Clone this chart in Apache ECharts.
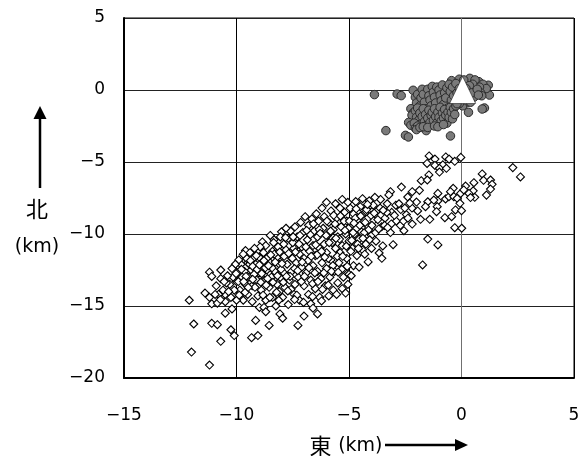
<!DOCTYPE html>
<html><head><meta charset="utf-8">
<script src="https://cdn.jsdelivr.net/npm/echarts@6/dist/echarts.min.js"></script>
<style>html,body{margin:0;padding:0;background:#fff}#c{width:587px;height:456px}</style>
</head><body><div id="c"></div>
<script>
const xTicks = {'-15':'−15','-10':'−10','-5':'−5','0':'0','5':'5'};
const yTicks = {'-20':'−20','-15':'−15','-10':'−10','-5':'−5','0':'0','5':'5'};
const xTitle = '東';
const yTitle = '北';
const unit = '(km)';
const volcano = [[0.05,0]];
const shallowQuakes = [
[-3.87,-.32],[-2.86,-.28],[-2.68,-.39],[-2.15,-.02],[-3.36,-2.82],[-2.49,-3.15],[-2.36,-3.26],[-.49,-3.19],[-1.57,-2.82],
[1.02,-1.25],[.92,-1.32],[.31,-1.55],[1.19,.33],[1.24,-.35],[.77,.58],[.37,.81],[-.44,.65],[-.1,.75],[.1,.7],[.95,.4],[1.1,.1],[.8,.2],[.6,.7],[.5,.4],[.85,-.2],[.6,-.1],[.35,.3],[.3,-.45],[.55,-.5],[.9,-.4],[.15,-.6],[.2,-.9],[.05,-1.1],[-.1,-.95],
[-2.05,-.5],[-2,-.9],[-1.95,-.3],[-1.85,-1.1],[-1.8,-.55],[-1.75,.05],[-1.7,-.3],[-1.65,-.85],[-1.55,-1.3],[-1.5,.05],[-1.45,-.4],[-1.4,-.7],[-1.35,-1.1],[-1.3,.25],[-1.25,-.15],[-1.2,-.5],[-1.15,-.9],[-1.1,.2],[-1.05,-1.3],[-1,.0],[-.95,-.35],[-.9,-.75],[-.85,.35],[-.8,-1],[-.75,-.2],[-.7,-.55],[-.65,.15],[-.6,-1.25],[-.55,.4],[-.5,-.1],[-.45,-.7],[-.4,.2],[-.35,-.4],[-.3,-1],[-.25,.45],[-.2,-.2],[-.15,-.65],[-.1,.1],
[-2.25,-1.3],[-2.15,-1.6],[-2.2,-1.75],[-2.05,-1.45],[-2,-1.9],[-1.95,-1.25],[-1.9,-2.1],[-1.85,-1.6],[-1.8,-2.35],[-1.75,-1.85],[-1.7,-1.3],[-1.65,-2.2],[-1.6,-1.7],[-1.55,-2.45],[-1.5,-1.95],[-1.45,-1.4],[-1.4,-2.25],[-1.35,-1.75],[-1.3,-1.55],[-1.25,-2.1],[-1.2,-1.3],[-1.15,-1.85],[-1.1,-2.3],[-1.05,-1.55],[-1,-1.9],[-.95,-1.2],[-.9,-2.15],[-.85,-1.6],[-.8,-1.95],[-.75,-1.35],[-.7,-1.75],[-.65,-2.3],[-.6,-1.55],[-.55,-1.9],[-.5,-1.2],[-.45,-1.55],[-.4,-2],[-.35,-1.3],[-.3,-1.7],[-.25,-1.1],
[-2.35,-2.25],[-2.25,-2.45],[-2.1,-2.3],[-2.05,-2.65],[-1.95,-2.5],[-2,-2.75],[-1.85,-2.6],[-1.7,-2.55],[-1.5,-2.6],[-1.2,-2.5],[-1.05,-2.55],[-.8,-2.4],
[-.2,-.95],[-.05,-.6],[.0,-.3],[.1,-.2],[.2,.1],[.25,-.75],[.4,-.85],[.45,-.2],[.7,.05],[.75,-.35]
];
const deepQuakes = [
[-12.1,-14.6],[-11.9,-16.25],[-12,-18.2],[-11.2,-19.1],[-11.1,-16.2],[-10.85,-16.3],[-10.7,-17.45],[-10.5,-15.5],[-10.2,-15.2],[-10.25,-16.65],[-10.1,-17.05],[-9.33,-17.2],[-9.05,-17.05],[-9.15,-16],[-8.55,-16.35],[-8.98,-15.1],[-8.78,-15.1],[-8.7,-15.4],[-8.07,-15.55],[-7.95,-15.85],[-7.27,-16.35],[-7,-15.7],[-6.4,-15.55],[-6.7,-14.85],[-6.6,-15.15],
[-11.2,-12.65],[-11.1,-12.95],[-10.7,-12.5],[-11.4,-14.1],[-11.2,-14.4],[-11.1,-14.85],[-10.85,-14.8],[-10.5,-14.7],[-8,-9.85],[-8.85,-10.55],[-8.33,-10.4],[-9.6,-11.15],
[-1.44,-4.58],[-1.18,-4.8],[-.7,-4.65],[-.55,-4.8],[-.03,-4.68],[-.3,-4.95],[-1.53,-5.1],[-1.18,-5.24],[-.83,-5.2],[-.98,-5.44],[-.98,-5.7],[-.67,-5.44],[2.28,-5.39],[2.62,-6.04],[.92,-5.83],[.98,-6.27],[1.29,-6.25],[1.36,-6.55],[1.29,-6.88],[1.11,-7.3],[.55,-6.44],[.18,-6.67],[.52,-7],[.59,-7.45],[.33,-7.18],[.4,-7.47],
[-1.45,-5.9],[-1.79,-6.3],[-1.52,-6.25],[-2.67,-6.74],[-1.87,-6.97],[-2.19,-7.06],[-3.16,-7.06],[-3.23,-7.29],[-2.39,-7.43],[-1.05,-7.18],[-1.5,-7.76],[-2,-7.78],[-1.05,-7.7],[-1.23,-7.64],[-1.08,-8.1],[-1.11,-8.45],[-.71,-7.57],[-.56,-7.41],[-.37,-6.83],[-.49,-7.06],[-.34,-7.41],[-.19,-7.52],[-.04,-7.18],[.1,-6.94],[-.07,-7.87],[-.27,-8.33],[0,-8.38],[-.74,-8.87],[-.44,-8.8],[-.3,-9.56],[.01,-9.6],[-1.5,-10.35],[-1.05,-10.76],[-1.73,-12.15],[-3.04,-10.74],[-3.5,-10.83],[-3.66,-11.32],[-3.54,-11.69],[-4.15,-11.94],[-5.05,-13.5],[-1.41,-8.98],[-1.82,-8.98],[-2.19,-9.31],[-2.56,-9.77],[-3.16,-9.9],
[-1.6,-8.1],[-1.95,-8.4],[-2.2,-8.2],[-2.45,-8.65],[-2.7,-8.3],[-2.3,-7.85],[-2.9,-9.1],[-3.1,-8.5],[-3.3,-7.9],[-3.4,-8.9],[-3.6,-7.6],[-3.55,-9.5],[-3.75,-8.4],[-3.85,-7.45],[-3.9,-9.05],[-4,-10.1],[-4.05,-8],[-4.1,-7.7],[-4.2,-9.4],[-4.25,-10.7],[-4.3,-8.55],[-4.4,-7.55],[-4.4,-11.1],[-4.45,-9.85],[-4.5,-8.1],[-4.55,-10.35],[-4.6,-9],[-4.65,-11.5],[-4.7,-7.75],[-4.75,-10],[-4.8,-8.6],[-4.8,-12.2],[-4.85,-11],[-4.9,-9.4],[-4.95,-8.2],[-5,-10.5],[-5,-12.8],[-5.05,-7.8],[-5.1,-9.1],[-5.1,-11.7],[-5.15,-10],[-5.2,-12.4],[-5.2,-8.5],[-5.25,-13],[-5.3,-10.8],[-5.3,-7.6],[-5.35,-9.5],[-5.4,-11.3],[-5.4,-8.2],[-5.45,-12],[-5.5,-10.2],[-5.5,-13.4],[-5.55,-8.9],[-5.6,-11],[-5.6,-7.9],[-5.65,-12.6],[-5.7,-9.7],[-5.7,-13.9],[-5.75,-10.6],[-5.8,-8.4],[-5.8,-11.8],[-5.85,-13],[-5.9,-9.2],[-5.9,-14.3],[-5.95,-10.1],[-6,-7.8],[-6,-11.3],[-6,-12.4],[-6.05,-13.6],[-6.1,-8.8],[-6.1,-10.7],[-6.15,-9.6],[-6.2,-8.2],[-6.2,-12],[-6.25,-13.1],[-6.3,-11],[-6.3,-14.4],[-6.35,-9.1],[-6.4,-10.2],[-6.4,-12.6],[-6.45,-8.6],[-6.5,-11.5],[-6.5,-13.8],[-6.55,-9.8],[-6.6,-10.8],[-6.6,-12.2],[-6.65,-8.95],[-6.7,-13.2],[-6.75,-11.2],[-6.8,-9.4],[-6.8,-14.2],[-6.85,-10.4],[-6.9,-12.7],[-6.95,-8.8],[-7,-11.7],[-7,-13.6],[-7.05,-9.9],[-7.1,-10.9],[-7.1,-12.3],[-7.15,-9.2],[-7.2,-14.6],[-7.2,-11.4],[-7.25,-13],[-7.3,-10.2],[-7.35,-12],[-7.4,-9.5],[-7.4,-13.5],[-7.45,-11],[-7.5,-10.6],[-7.5,-14.1],[-7.55,-12.6],[-7.6,-9.8],[-7.6,-11.6],[-7.65,-13.2],[-7.7,-10.3],[-7.7,-14.9],[-7.75,-12.1],[-7.8,-9.6],[-7.8,-11.1],[-7.85,-13.7],[-7.9,-10.7],[-7.9,-12.7],[-7.95,-14.4],[-8,-11.5],[-8,-13.1],[-8.05,-10.2],[-8.1,-12.1],[-8.1,-14],[-8.15,-10.9],[-8.2,-11.6],[-8.2,-13.5],[-8.25,-15],[-8.3,-12.6],[-8.35,-10.6],[-8.4,-11.2],[-8.4,-14.4],[-8.45,-13],[-8.5,-12],[-8.5,-10.1],[-8.55,-13.7],[-8.6,-11.6],[-8.65,-12.5],[-8.7,-10.8],[-8.7,-14.6],[-8.75,-13.2],[-8.8,-11.3],[-8.85,-12.1],[-8.9,-13.9],[-8.95,-10.9],[-9,-12.7],[-9,-11.6],[-9.05,-14.3],[-9.1,-13.2],[-9.15,-12.1],[-9.2,-11],[-9.25,-11.7],[-9.3,-14.7],[-9.3,-13.6],[-9.35,-12.5],[-9.4,-11.3],[-9.45,-13],[-9.5,-12],[-9.5,-14.2],[-9.55,-11.7],[-9.6,-13.5],[-9.65,-12.6],[-9.7,-11.4],[-9.7,-14.6],[-9.75,-13],[-9.8,-12.1],[-9.85,-13.9],[-9.9,-11.8],[-9.95,-12.7],[-10,-14.6],[-10,-13.3],[-10.05,-12.1],[-10.1,-13.9],[-10.15,-13],[-10.2,-12.4],[-10.25,-14.4],[-10.3,-13.5],[-10.4,-12.9],[-10.5,-14.2],[-10.6,-13.9],[-10.7,-13.1],[-10.8,-14.2],[-10.9,-13.6],
[-9.92,-13.3],[-9.62,-14.05],[-9.42,-12.1],[-9.22,-12.8],[-9.12,-11.5],[-8.92,-13.35],[-8.72,-12.35],[-8.62,-13.1],[-8.42,-12.35],[-8.32,-11.4],[-8.22,-14.05],[-8.02,-12.45],[-7.92,-13.35],[-7.82,-10.25],[-7.62,-12.95],[-7.52,-11.7],[-7.42,-12.4],[-7.32,-14.25],[-7.22,-10.7],[-7.12,-13.3],[-6.92,-10.9],[-6.82,-11.85],[-6.72,-10.05],[-6.62,-13.45],[-6.52,-12.7],[-6.42,-11.45],[-6.32,-9.7],[-6.22,-11.2],[-6.12,-12.7],[-6.02,-10.1],[-5.92,-11.7],[-5.82,-9.8],[-5.72,-12.2],[-5.62,-9.3],[-5.52,-11.55],[-5.42,-10.35],[-5.32,-12.45],[-5.22,-9.1],[-5.12,-10.85],[-5.02,-9.6],[-4.92,-11.2],[-4.82,-9.9],[-4.72,-8.9],[-4.62,-10.7],[-4.52,-9.4],[-4.42,-8.7],[-4.32,-9.9],[-4.22,-8.3],[-4.12,-9.7],[-4.02,-8.7],[-3.92,-8],[-3.82,-9.9],[-3.72,-9],[-3.62,-8.2],[-3.42,-9.4],[-3.32,-8.5],[-3.12,-9.3],[-2.92,-8],[-2.72,-9.4],[-2.52,-8.2],
[-9.78,-12.45],[-9.58,-12.95],[-9.38,-11.85],[-9.28,-12.25],[-9.18,-13.7],[-9.08,-12.45],[-8.98,-12.15],[-8.88,-12.75],[-8.78,-11.85],[-8.68,-13.55],[-8.58,-12.2],[-8.48,-11.45],[-8.38,-13.35],[-8.28,-11.95],[-8.18,-12.9],[-8.08,-11.25],[-7.98,-12.05],[-7.88,-11.55],[-7.78,-12.95],[-7.68,-11.35],[-7.58,-13.85],[-7.48,-10.2],[-7.38,-11.25],[-7.28,-12.55],[-7.18,-10.1],[-7.08,-11.95],[-6.98,-12.95],[-6.88,-9.75],[-6.78,-12.35],[-6.68,-11.55],[-6.58,-9.3],[-6.48,-10.75],[-6.38,-13.3],[-6.28,-9.95],[-6.18,-13.85],[-6.08,-11.6],[-5.98,-9.1],[-5.88,-10.6],[-5.78,-12.6],[-5.68,-8.7],[-5.58,-10.3],[-5.48,-12.65],[-5.38,-8.75],[-5.28,-11.55],[-5.18,-9.75],[-5.08,-12.25],[-4.98,-9.1],[-4.88,-10.45],[-4.78,-9.25],[-4.68,-8.25],[-4.58,-11],[-4.48,-8.75],[-4.38,-10.3],[-4.28,-9.2],[-4.18,-7.95],[-4.08,-10.4],[-3.98,-9.4],[-3.88,-8.55],[-3.68,-9.65],[-3.48,-8.35],[-3.28,-9.55],[-2.98,-8.7],[-2.78,-7.9],[-2.58,-9.1],[-2.38,-8.9],
[-10.35,-14],[-10.45,-13.4],[-10.55,-13.3],[-10.72,-14.55],[-10.95,-14.2],[-10.02,-12.75],[-9.88,-14.25],[-9.68,-13.3],[-9.48,-13.7],[-9.28,-13.15],[-8.82,-14.25],[-8.52,-14.4],[-8.12,-14.6],[-7.72,-13.95],[-7.42,-14.55],[-7.02,-14.75],[-6.62,-14.35],[-6.22,-14.65],[-5.92,-13.55],[-5.55,-14.2],[-5.3,-13.8],[-5.15,-14.1],[-4.9,-12.9],[-4.55,-12.3],[-4.3,-11.4],[-4,-11],[-3.8,-10.5]
];
const chart = echarts.init(document.getElementById('c'));
const font = '"DejaVu Sans", sans-serif';
const cjk = '"Noto Sans CJK JP",sans-serif';
const unitStyle = {fontFamily:font,fontSize:18,color:'#000'};
chart.setOption({
  animation:false, backgroundColor:'#fff',
  grid:{left:124,right:13,top:18,bottom:78,containLabel:false,outerBoundsMode:'none',
    show:true,borderColor:'#000',borderWidth:1,backgroundColor:'#fff'},
  xAxis:{type:'value',min:-15,max:5,interval:5,
    name:'{a|'+xTitle+'}  {b|'+unit+'}',nameLocation:'middle',nameGap:57,
    nameTextStyle:{padding:[0,6,0,0],rich:{a:{fontFamily:cjk,fontSize:22,color:'#000'},b:{...unitStyle,fontSize:19}}},
    axisLine:{show:true,onZero:false,lineStyle:{color:'#000',width:2}},
    axisTick:{show:false},
    axisLabel:{margin:29,fontFamily:font,fontSize:17,color:'#000',formatter:v=>xTicks[v]},
    splitLine:{show:true,lineStyle:{color:['#000','#000','#000','#707070','#000'],width:1}}},
  yAxis:{type:'value',min:-20,max:5,interval:5,
    name:'{a|'+yTitle+'}\n{b|'+unit+'}',nameLocation:'middle',nameGap:85,nameRotate:0,
    nameTextStyle:{align:'center',padding:[68,4,0,0],rich:{
      a:{fontFamily:cjk,fontSize:22,color:'#000',lineHeight:30,align:'center'},
      b:{...unitStyle,fontSize:19,lineHeight:46,align:'center'}}},
    axisLine:{show:true,onZero:false,lineStyle:{color:'#000',width:2}},
    axisTick:{show:false},
    axisLabel:{margin:19,padding:[4,0,0,0],fontFamily:font,fontSize:17,color:'#000',formatter:v=>yTicks[v]},
    splitLine:{show:true,lineStyle:{color:'#222',width:1}}},
  graphic:[
    {type:'line',shape:{x1:40,y1:188,x2:40,y2:115},style:{stroke:'#000',lineWidth:2.5}},
    {type:'polygon',shape:{points:[[40,106],[33.5,119],[46.5,119]]},style:{fill:'#000'}},
    {type:'line',shape:{x1:385,y1:445,x2:458,y2:445},style:{stroke:'#000',lineWidth:2.5}},
    {type:'polygon',shape:{points:[[468,445],[455,439],[455,451]]},style:{fill:'#000'}}
  ],
  series:[
    {name:'deep',type:'scatter',data:deepQuakes,symbol:'diamond',symbolSize:8,clip:false,large:false,
      itemStyle:{color:'#fff',borderColor:'#000',borderWidth:1.1,opacity:1}},
    {name:'shallow',type:'scatter',data:shallowQuakes,symbol:'circle',symbolSize:8.5,clip:false,
      itemStyle:{color:'#7a7a7a',borderColor:'#2a2a2a',borderWidth:1,opacity:1}},
    {name:'volcano',type:'scatter',data:volcano,symbol:'triangle',symbolSize:[26,27],clip:false,
      itemStyle:{color:'#fff',borderColor:'#000',borderWidth:.5,opacity:1}}
  ]
});
</script></body></html>
